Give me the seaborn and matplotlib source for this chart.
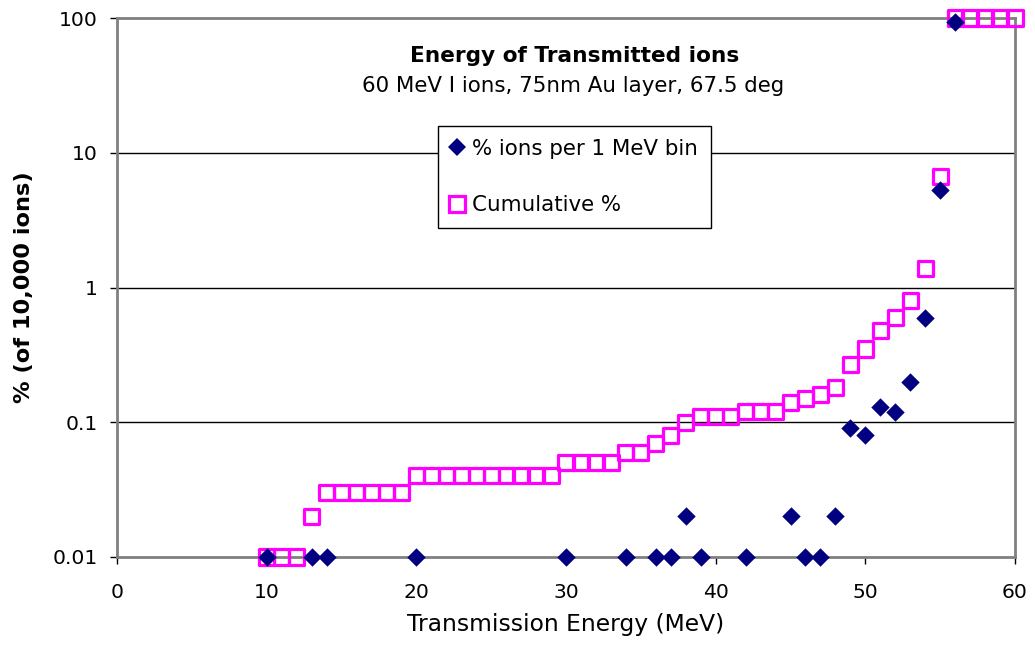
import matplotlib
matplotlib.use("Agg")
import matplotlib.pyplot as plt
import seaborn as sns
import pandas as pd
from matplotlib.lines import Line2D

# Data
bin_energy = [10, 13, 14, 20, 30, 34, 36, 37, 38, 39, 42, 45, 46, 47, 48,
              49, 50, 51, 52, 53, 54, 55, 56]
bin_pct = [0.01, 0.01, 0.01, 0.01, 0.01, 0.01, 0.01, 0.01, 0.02, 0.01, 0.01, 0.02, 0.01, 0.01, 0.02,
           0.09, 0.08, 0.13, 0.12, 0.20, 0.59, 5.3, 93.3]

cum_energy = list(range(10, 61))
cum_pct = [0.01, 0.01, 0.01, 0.02, 0.03, 0.03, 0.03, 0.03, 0.03, 0.03,
           0.04, 0.04, 0.04, 0.04, 0.04, 0.04, 0.04, 0.04, 0.04, 0.04,
           0.05, 0.05, 0.05, 0.05, 0.06, 0.06, 0.07, 0.08, 0.10, 0.11,
           0.11, 0.11, 0.12, 0.12, 0.12, 0.14, 0.15, 0.16, 0.18, 0.27,
           0.35, 0.48, 0.60, 0.80, 1.39, 6.7, 100, 100, 100, 100, 100]

x_ticks = [0, 10, 20, 30, 40, 50, 60]
y_ticks = [0.01, 0.1, 1, 10, 100]
y_tick_labels = ["0.01", "0.1", "1", "10", "100"]

sns.set_style("white")
plt.rcParams['font.family'] = ['DejaVu Sans']
plt.rcParams['text.color'] = 'black'
plt.rcParams['axes.labelcolor'] = 'black'
plt.rcParams['xtick.color'] = 'black'
plt.rcParams['ytick.color'] = 'black'

fig = plt.figure(figsize=(10.35, 6.57), dpi=100)
ax = fig.add_axes([117/1035, 1 - 557/657, 898/1035, 539/657])

df_bin = pd.DataFrame({"E": bin_energy, "pct": bin_pct})
df_cum = pd.DataFrame({"E": cum_energy, "pct": cum_pct})

ax.set_yscale("log")
ax.set_xlim(0, 60)
ax.set_ylim(0.01, 100)

for y in [0.1, 1, 10]:
    ax.axhline(y, color="black", lw=1.0, zorder=1)

sns.scatterplot(data=df_cum, x="E", y="pct", ax=ax, marker="s", s=120,
                facecolors="none", edgecolor="#FF00FF", linewidth=2.3,
                clip_on=False, zorder=3)
sns.scatterplot(data=df_bin, x="E", y="pct", ax=ax, marker="D", s=88,
                color="#000080", linewidth=0, clip_on=False, zorder=4)

ax.set_xticks(x_ticks)
ax.set_xticklabels([str(t) for t in x_ticks])
ax.set_yticks(y_ticks)
ax.set_yticklabels(y_tick_labels)
ax.yaxis.set_minor_locator(matplotlib.ticker.NullLocator())
ax.tick_params(axis="both", which="major", direction="out", length=5, width=1,
               color="black", labelcolor="black", labelsize=14.6, bottom=True, left=True)
ax.tick_params(axis="x", pad=14)
ax.tick_params(axis="y", pad=9)
for sp in ax.spines.values():
    sp.set_color("#808080")
    sp.set_linewidth(2)
    sp.set_visible(True)

ax.set_xlabel("Transmission Energy (MeV)", fontsize=16.8, labelpad=8, color="black")
ax.set_ylabel("% (of 10,000 ions)", fontsize=16.2, fontweight="bold", labelpad=13,
              color="black")

ax.text(0.510, 0.9184, "Energy of Transmitted ions", transform=ax.transAxes,
        ha="center", va="baseline", fontsize=15.6, fontweight="bold", color="black")
ax.text(0.5083, 0.8627, "60 MeV I ions, 75nm Au layer, 67.5 deg", transform=ax.transAxes,
        ha="center", va="baseline", fontsize=15.4, color="black")

handles = [
    Line2D([], [], linestyle="none", marker="D", markersize=9.5, color="#000080",
           markeredgewidth=0),
    Line2D([], [], linestyle="none", marker="s", markersize=11, markerfacecolor="none",
           markeredgecolor="#FF00FF", markeredgewidth=2.3),
]
leg = ax.legend(handles, ["% ions per 1 MeV bin", "Cumulative %"],
                loc="upper left", bbox_to_anchor=(0.3575, 0.7996),
                frameon=True, fancybox=False, framealpha=1, edgecolor="black",
                fontsize=15.4, labelspacing=1.7, handlelength=0.6, handletextpad=0.4,
                borderpad=0.6, borderaxespad=0)
leg.get_frame().set_linewidth(1.0)
for t in leg.get_texts():
    t.set_color("black")

fig.savefig("out.png", dpi=100)
